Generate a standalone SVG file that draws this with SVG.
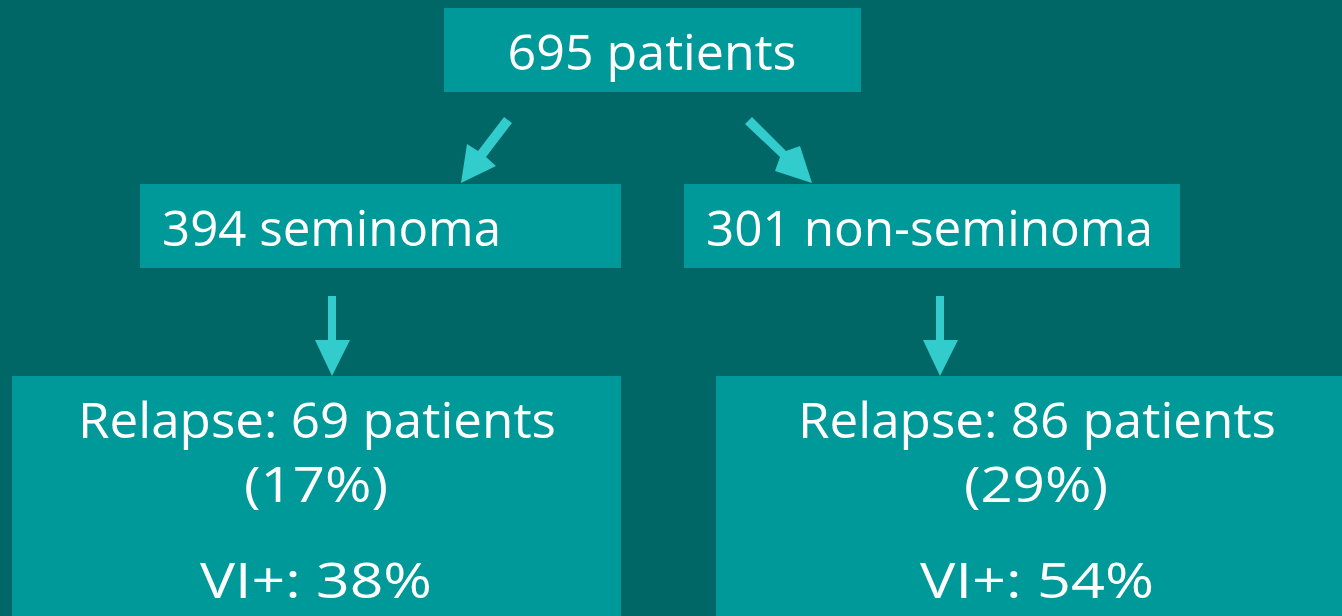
<svg xmlns="http://www.w3.org/2000/svg" width="1342" height="616" viewBox="0 0 1342 616">
<style>
.box{fill:#009999}
.t{font-family:"Open Sans","DejaVu Sans",sans-serif;font-size:49px;fill:#ffffff}
.c{text-anchor:middle}
.arr{fill:#33CCCC}
</style>
<rect width="1342" height="616" fill="#006666"/>
<g id="n-total">
<rect class="box" x="444" y="8" width="417" height="84"/>
<text class="t c" x="652" y="70" textLength="289" lengthAdjust="spacingAndGlyphs">695 patients</text>
</g>
<g id="n-seminoma">
<rect class="box" x="140" y="184" width="481" height="84"/>
<text class="t" x="162" y="246" textLength="339" lengthAdjust="spacingAndGlyphs">394 seminoma</text>
</g>
<g id="n-nonseminoma">
<rect class="box" x="684" y="184" width="496" height="84"/>
<text class="t" x="706" y="246" textLength="447" lengthAdjust="spacingAndGlyphs">301 non-seminoma</text>
</g>
<g id="n-relapse-sem">
<rect class="box" x="12" y="376" width="609" height="240"/>
<text class="t c" x="317" y="438" textLength="478" lengthAdjust="spacingAndGlyphs">Relapse: 69 patients</text>
<text class="t c" x="316" y="502" textLength="144" lengthAdjust="spacingAndGlyphs">(17%)</text>
<text class="t c" x="316" y="598" textLength="232" lengthAdjust="spacingAndGlyphs">VI+: 38%</text>
</g>
<g id="n-relapse-nonsem">
<rect class="box" x="716" y="376" width="626" height="240"/>
<text class="t c" x="1037" y="438" textLength="478" lengthAdjust="spacingAndGlyphs">Relapse: 86 patients</text>
<text class="t c" x="1036" y="502" textLength="144" lengthAdjust="spacingAndGlyphs">(29%)</text>
<text class="t c" x="1037" y="598" textLength="234" lengthAdjust="spacingAndGlyphs">VI+: 54%</text>
</g>
<g id="connectors">
<polygon class="arr" points="504,117 512,123 486,157 496,166 461,183 467,144 478,151"/>
<polygon class="arr" points="745,124 752,117 786,151 800,146 812,183 775,171 780,157"/>
<polygon class="arr" points="328,296 336,296 336,340 350,340 332,376 315,340 328,340"/>
<polygon class="arr" points="936,296 944,296 944,340 958,340 940,376 923,340 936,340"/>
</g>
</svg>
